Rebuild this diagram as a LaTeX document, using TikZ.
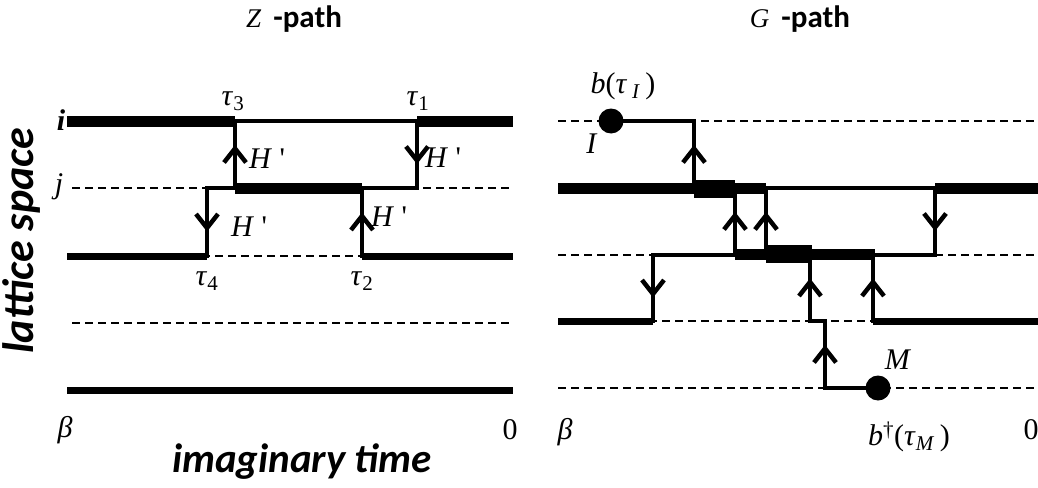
\documentclass[tikz,border=0pt]{standalone}
\usepackage{fontspec}
\setmainfont{Liberation Serif}
\setsansfont{Carlito}
\usetikzlibrary{decorations.markings}

\begin{document}
\begin{tikzpicture}[x=1pt, y=-1pt,
  vacant/.style={line width=1.8pt, dash pattern=on 8pt off 5pt},
  wthin/.style={line width=4.5pt},
  wmid/.style={line width=7pt},
  wthick/.style={line width=11pt},
  wfat/.style={line width=17.5pt},
  hop/.style={wthin, line cap=rect, postaction={decorate},
    decoration={markings, mark=at position 0.5 with
      {\draw[line width=4.5pt, line cap=butt, line join=miter] (-8pt,-11pt) -- (6pt,0pt) -- (-8pt,11pt);}}},
  dot/.style={circle, fill, inner sep=0pt, minimum size=25pt},
  sym/.style={inner sep=0pt, font=\fontsize{30}{34}\selectfont},
  title/.style={inner sep=0pt, font=\fontsize{31}{36}\selectfont},
  axis/.style={inner sep=0pt, font=\fontsize{41}{48}\selectfont\sffamily\bfseries\itshape}
]
\useasboundingbox (0,0) rectangle (1038,487);

% empty sites
\foreach \y in {188,256,323}
  \draw[vacant] (72,\y) -- (513,\y);
\foreach \y in {121,255,321,388}
  \draw[vacant] (558,\y) -- (1038,\y);

% Z-path world lines
\draw[wthick] (67,121) -- (235,121);
\draw[wthin] (235,121) -- (417,121);
\draw[wthick] (417,121) -- (513,121);
\draw[wthin] (207,188) -- (235,188);
\draw[wthick] (235,188) -- (362,188);
\draw[wthin] (362,188) -- (417,188);
\draw[wmid] (67,256) -- (207,256);
\draw[wmid] (362,256) -- (513,256);
\draw[wmid] (67,390) -- (513,390);
\draw[hop] (235,188) -- (235,121);
\draw[hop] (417,121) -- (417,188);
\draw[hop] (207,188) -- (207,256);
\draw[hop] (362,256) -- (362,188);

% G-path world lines
\draw[wthin] (611,121) -- (694,121);
\draw[wthick] (558,188) -- (694,188);
\draw[wfat] (694,189) -- (735,189);
\draw[wthick] (735,188) -- (766,188);
\draw[wthin] (766,188) -- (935,188);
\draw[wthick] (935,188) -- (1038,188);
\draw[wthin] (653,255) -- (735,255);
\draw[wthick] (735,254) -- (766,254);
\draw[wfat] (766,254) -- (812,254);
\draw[wthick] (812,254) -- (875,254);
\draw[wthin] (875,255) -- (935,255);
\draw[wmid] (558,321) -- (653,321);
\draw[wthin] (810,321) -- (825,321);
\draw[wmid] (873,321) -- (1038,321);
\draw[wthin] (825,388) -- (878,388);
\draw[hop] (694,188) -- (694,121);
\draw[hop] (735,255) -- (735,188);
\draw[hop] (766,255) -- (766,188);
\draw[hop] (935,188) -- (935,255);
\draw[hop] (653,255) -- (653,321);
\draw[hop] (810,321) -- (810,255);
\draw[hop] (873,321) -- (873,255);
\draw[hop] (825,388) -- (825,321);
\node[dot] (worm I) at (611,121) {};
\node[dot] (worm M) at (878,388) {};

% labels
\node[title] (ztitle) at (294,19) {{\fontsize{27}{30}\selectfont\textit{Z}}\hspace{12pt}\textsf{\bfseries -path}};
\node[title] (gtitle) at (800,19) {{\fontsize{27}{30}\selectfont\textit{G}}\hspace{12pt}\textsf{\bfseries -path}};
\node[sym] (tau3) at (233,101) {\textit{τ}\textsubscript{3}};
\node[sym] (tau1) at (418,101) {\textit{τ}\textsubscript{1}};
\node[sym] (tau4) at (207,281) {\textit{τ}\textsubscript{4}};
\node[sym] (tau2) at (362,281) {\textit{τ}\textsubscript{2}};
\node[sym] (h3) at (267,159) {\textit{H} \textquotesingle};
\node[sym] (h1) at (443,158) {\textit{H} \textquotesingle};
\node[sym] (h4) at (249,227) {\textit{H} \textquotesingle};
\node[sym] (h2) at (389,217) {\textit{H} \textquotesingle};
\node[sym] (site i) at (61,120) {\textbf{\textit{i}}};
\node[sym] (site j) at (59,187) {\textit{j}};
\node[sym] (beta z) at (65,430) {\textit{β}};
\node[sym] (zero z) at (510,430) {0};
\node[sym] (bI) at (623,86) {\textit{b}(\textit{τ}\,\textsubscript{\textit{I}}\,)};
\node[sym] (lblI) at (592,144) {\textit{I}};
\node[sym] (lblM) at (898,360) {\textit{M}};
\node[sym] (bM) at (909,437) {\textit{b}\textsuperscript{†}(\textit{τ}\textsubscript{\textit{M}}\,)};
\node[sym] (beta g) at (565,432) {\textit{β}};
\node[sym] (zero g) at (1031,430) {0};
\node[axis, rotate=90, font=\fontsize{44}{50}\selectfont\sffamily\bfseries\itshape] (space) at (22,241) {lattice space};
\node[axis] (time) at (302,462) {imaginary time};
\end{tikzpicture}
\end{document}
